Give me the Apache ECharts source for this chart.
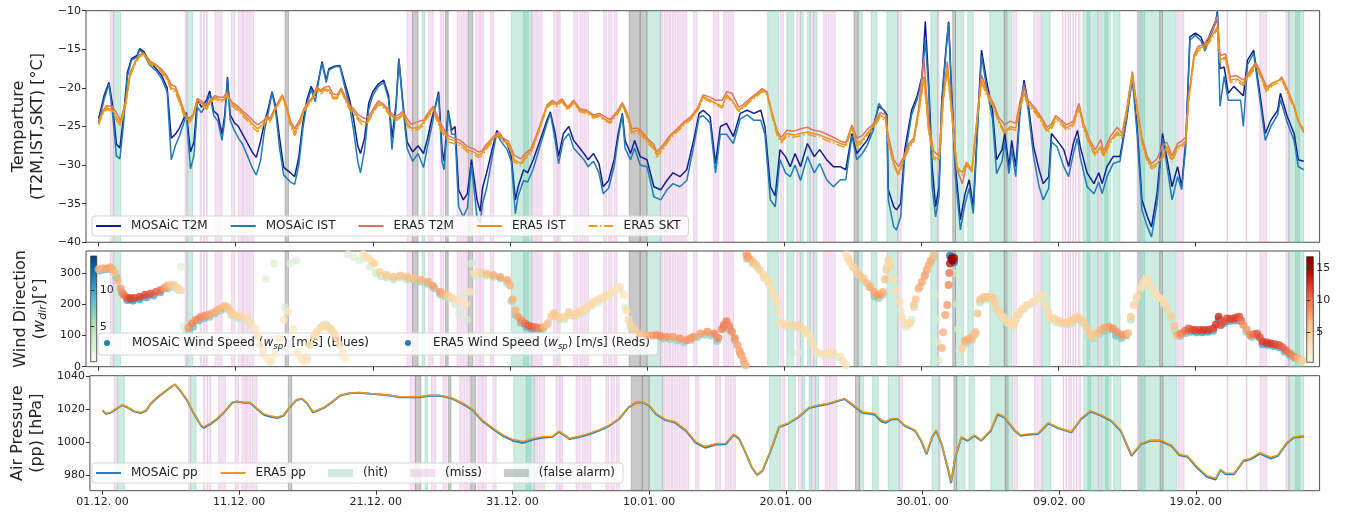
<!DOCTYPE html>
<html>
<head>
<meta charset="utf-8">
<script src="https://cdn.jsdelivr.net/npm/echarts@6/dist/echarts.min.js"></script>
<style>
  html, body { margin: 0; padding: 0; background: #fff; }
  #chart { width: 1351px; height: 516px; }
</style>
</head>
<body>
<div id="chart"></div>
<script>
// Time is expressed in days since 01.12. 00:00
const tickDays = [0, 10, 20, 30, 40, 50, 60, 70, 80];
const tickLabels = ['01.12. 00', '11.12. 00', '21.12. 00', '31.12. 00', '10.01. 00',
                    '20.01. 00', '30.01. 00', '09.02. 00', '19.02. 00'];

// MOSAiC temperatures: [day, T2M, IST]
const mosaicTemp = [
  [0,-24,-24.5],[0.4,-21,-21.5],[0.75,-19.3,-19.5],[1.0,-22,-23],[1.3,-27.3,-28.8],[1.55,-27.8,-29.2],[1.8,-24,-25],
  [2.1,-18,-18.5],[2.4,-16.2,-16.4],[2.8,-15.8,-16],[3.0,-14.9,-15.1],[3.3,-15.3,-15.6],[3.7,-16.6,-17],[4.2,-17.5,-17.8],
  [4.6,-18.4,-18.8],[5.0,-20,-20.5],[5.3,-26.5,-29.3],[5.6,-26,-27.5],[5.9,-25.2,-26.2],[6.2,-24,-24.6],[6.4,-23.2,-23.5],
  [6.7,-28.3,-30.5],[6.95,-27,-28.8],[7.2,-21.5,-22.5],[7.5,-22.5,-23.2],[7.9,-21.5,-22],[8.1,-20.4,-20.8],[8.4,-23,-23.6],
  [8.7,-23.5,-24.3],[9.0,-26,-26.8],[9.2,-23.5,-24.2],[9.4,-18.6,-18.8],[9.6,-23.5,-24.2],[9.9,-24.5,-25.5],[10.2,-25,-26.5],
  [10.5,-26,-27.3],[10.9,-27.3,-29],[11.2,-28.3,-30.3],[11.5,-29,-31.3],[11.8,-27,-29.5],[12.1,-24.5,-25.5],[12.4,-22.5,-23],
  [12.65,-20.5,-20.6],[12.9,-22.3,-22.8],[13.2,-26.5,-27.8],[13.5,-30.3,-31.3],[14.0,-31,-32.2],[14.3,-31.5,-32.5],
  [14.6,-29,-30],[14.9,-24.5,-25.2],[15.2,-21.5,-22],[15.5,-19.8,-20.2],[15.8,-21,-21.8],[16.1,-18.4,-18.6],[16.3,-16.6,-16.8],
  [16.6,-19,-19.3],[16.8,-17.5,-17.7],[17.2,-17.2,-17.3],[17.6,-17.1,-17.2],[17.9,-19,-19.5],[18.3,-21.5,-22.3],[18.6,-24,-25.5],
  [18.9,-27.5,-29.5],[19.1,-28.5,-31],[19.4,-26.5,-28],[19.7,-22,-22.8],[20.0,-20.5,-21],[20.4,-19.5,-19.8],[20.8,-19,-19.3],
  [21.15,-21,-21.5],[21.4,-26.5,-28],[21.7,-22,-22.5],[21.9,-16.2,-16.3],[22.2,-22,-22.5],[22.5,-27,-27.8],[22.9,-28.3,-29.5],
  [23.3,-27.5,-28.5],[23.7,-28.5,-30.3],[24.0,-26.5,-27.5],[24.3,-24,-25],[24.55,-22.4,-22.6],[24.8,-20.5,-20.8],
  [25.05,-28,-29.5],[25.2,-29.5,-30.6],[25.5,-22.9,-23.2],[25.75,-25.5,-26],[26.0,-25,-26],[26.26,-33.2,-35.4],
  [26.6,-34.5,-36.7],[26.9,-33.7,-35.5],[27.2,-29.3,-30],[27.6,-34.5,-36.7],[27.84,-36,-37.5],[28.0,-33,-35],[28.3,-31,-33],
  [28.7,-28,-29],[29.05,-25.5,-25.8],[29.3,-26.3,-26.8],[29.8,-27.2,-28],[30.1,-28.9,-29.5],[30.4,-34.5,-36.3],[30.6,-32.8,-34],
  [31.0,-30.6,-32],[31.3,-31,-32.2],[31.7,-29.3,-30.5],[32.2,-26.8,-27.5],[32.7,-24.2,-24.6],[32.95,-23.1,-23.3],[33.3,-25.9,-26.8],
  [33.55,-28.9,-29.8],[33.9,-25.9,-26.8],[34.3,-25,-25.9],[34.65,-26.8,-27.8],[35.0,-27.6,-28.5],[35.4,-28.5,-29.3],
  [35.7,-29.3,-30.2],[36.1,-28.5,-29.5],[36.5,-29.8,-31],[36.8,-32.8,-33.7],[37.2,-32,-33],[37.6,-29.3,-30.2],[37.9,-25.9,-26.5],
  [38.2,-23.3,-23.5],[38.4,-26.8,-27.8],[38.8,-28.5,-29.3],[39.1,-26.8,-27.8],[39.5,-28.9,-30],[40.0,-29.3,-30.2],
  [40.5,-32.8,-34.1],[41.0,-33.2,-34.5],[41.45,-32,-33.2],[41.9,-31,-32.4],[42.4,-31.5,-32.8],[42.9,-30.6,-32],[43.4,-26.8,-27.6],
  [43.8,-23.3,-23.8],[44.1,-22.9,-23.6],[44.6,-23.7,-24.5],[45.0,-29.8,-31],[45.35,-25,-26],[45.8,-24.6,-26],[46.3,-26.3,-27.2],
  [46.8,-23.3,-24],[47.3,-22.9,-23.5],[47.8,-23.3,-24.2],[48.3,-22.9,-24.2],[48.6,-25,-26],[49.0,-32.8,-34.5],[49.35,-34,-35.4],
  [49.7,-28,-29.3],[50.1,-28.9,-31],[50.45,-30.2,-31.5],[50.8,-28.5,-30],[51.2,-30.2,-32],[51.7,-27.2,-28.9],[52.2,-28.9,-31],
  [52.6,-28,-29.8],[53.1,-29.3,-31.9],[53.6,-30.2,-32.8],[54.1,-30.2,-31.9],[54.5,-30.6,-31.9],[54.95,-25.9,-26.2],
  [55.3,-28.5,-29.3],[55.7,-27.6,-28.5],[56.05,-26.8,-27.5],[56.5,-25,-25.5],[56.9,-22.4,-22],[57.3,-22.9,-23],[57.5,-23.5,-24],
  [57.6,-33.2,-34.5],[58.0,-35.4,-38],[58.2,-35.8,-38.4],[58.5,-35,-36.7],[58.8,-28,-29],[59.3,-22.9,-23.5],[59.7,-21.1,-21.5],
  [60.06,-18.5,-18.8],[60.3,-11.4,-13.8],[60.55,-19.4,-20.5],[60.8,-30.2,-32.8],[61.05,-35.4,-36.7],[61.3,-32.8,-34],
  [61.5,-21.6,-22],[61.8,-15.1,-15.5],[62.0,-11.4,-11.6],[62.25,-21.6,-22.5],[62.5,-30.2,-31.5],[62.86,-37.1,-38.4],
  [63.2,-33.7,-35],[63.5,-31.9,-33],[63.8,-35.4,-36.3],[64.2,-21.6,-22.4],[64.4,-15.1,-15.8],[64.8,-19.4,-20.3],[65.2,-22.9,-24],
  [65.5,-29.3,-31.1],[65.9,-28,-29.5],[66.1,-25.9,-27],[66.4,-30.2,-31.1],[66.6,-26.8,-28],[66.9,-30.2,-31.5],[67.2,-22.9,-23.5],
  [67.5,-19,-19.4],[67.8,-22,-22.8],[68.2,-27.6,-28.9],[68.6,-30.6,-32.8],[68.9,-32.4,-34.5],[69.3,-31.5,-33],[69.5,-25.9,-27],
  [69.9,-26.8,-27.6],[70.4,-28,-30.2],[70.75,-30.2,-31.5],[71.1,-27.2,-28.5],[71.4,-25.5,-26.5],[71.6,-27.6,-29],[72.1,-31,-32.8],
  [72.6,-32.4,-33.7],[72.95,-31,-32.2],[73.2,-32.4,-33.7],[73.55,-30.2,-31.5],[74.0,-28.9,-29.8],[74.5,-28.9,-29.5],
  [75.0,-23.7,-24],[75.4,-18.5,-18.7],[75.75,-25,-26],[76.1,-34.5,-35.8],[76.5,-36.7,-38],[76.8,-38,-39.3],[77.2,-33.7,-35],
  [77.6,-25.9,-26.5],[77.9,-28.9,-29.8],[78.3,-32.8,-34.5],[78.7,-30.2,-31.5],[79.0,-32.8,-33.2],[79.3,-26.8,-27.5],
  [79.6,-13.4,-13.8],[80.0,-12.9,-13.2],[80.4,-13.4,-13.9],[80.7,-14.7,-15.2],[81.1,-12.9,-13.3],[81.5,-11.2,-11.5],
  [81.6,-10.1,-10.3],[81.8,-17.5,-22.4],[82.1,-17.3,-18.5],[82.4,-20.7,-21.6],[82.8,-19.8,-21.6],[83.3,-20.7,-21.6],
  [83.5,-21,-25],[83.8,-16.4,-17],[84.25,-15.1,-15.5],[84.7,-20.7,-21.5],[85.1,-25.9,-26.8],[85.5,-24.2,-25],[86.0,-22.9,-23.5],
  [86.2,-20.7,-21.5],[86.7,-23.7,-24.5],[87.2,-25.9,-26.8],[87.5,-29.3,-30.2],[87.9,-29.5,-30.6]
];

// ERA5 temperatures: [day, T2M, IST, SKT]
const era5Temp = [
  [0,-24.3,-24.6,-24.8],[0.3,-23,-23.2,-23.4],[0.6,-22.3,-22.6,-22.8],[1.0,-22.4,-22.8,-23],[1.3,-23.2,-23.8,-24.2],
  [1.6,-24.2,-24.6,-25],[2.0,-21.5,-21.7,-22],[2.3,-18,-18.2,-18.5],[2.7,-16.5,-16.6,-16.8],[3.0,-15.7,-15.7,-15.9],
  [3.3,-15.5,-15.6,-15.8],[3.8,-16.6,-16.8,-17],[4.2,-17,-17.1,-17.3],[4.6,-17.6,-17.8,-18],[5.0,-18.5,-18.8,-19],
  [5.3,-19.6,-20,-20.3],[5.6,-19.8,-20.2,-20.5],[6.0,-21.8,-22.2,-22.5],[6.3,-23.3,-23.6,-23.9],[6.6,-24,-24.3,-24.6],
  [6.9,-23.4,-23.6,-23.8],[7.2,-21.4,-21.6,-21.8],[7.6,-21.8,-22.1,-22.3],[7.9,-22.3,-22.6,-22.8],[8.2,-21.4,-21.6,-21.8],
  [8.5,-21,-21.2,-21.4],[8.8,-21.2,-21.5,-21.7],[9.1,-21.2,-21.6,-21.8],[9.35,-20.6,-20.8,-21],[9.7,-21.8,-22,-22.3],
  [10.1,-22.3,-22.6,-22.9],[10.5,-23,-23.3,-23.6],[10.9,-23.6,-24,-24.3],[11.3,-24.3,-24.8,-25.2],[11.6,-24.8,-25.3,-25.7],
  [12.0,-24.3,-24.7,-25],[12.3,-23.6,-23.8,-24],[12.5,-24,-24.3,-24.5],[12.8,-22.8,-23,-23.2],[13.1,-21.8,-22,-22.2],
  [13.4,-20.9,-21,-21.2],[13.7,-22.3,-22.5,-22.8],[14.0,-24.3,-24.7,-25],[14.3,-25.3,-25.8,-26.2],[14.7,-24,-24.3,-24.6],
  [15.0,-22.6,-22.8,-23],[15.3,-21.8,-22,-22.2],[15.6,-21.2,-21.4,-21.6],[15.9,-19.8,-20,-20.2],[16.2,-20.3,-20.5,-20.8],
  [16.5,-19.9,-20.1,-20.3],[16.8,-19.8,-20.3,-20.5],[17.1,-20.8,-21.2,-21.4],[17.4,-20.9,-21.2,-21.4],[17.7,-20,-20.2,-20.4],
  [18.0,-21.2,-21.5,-21.7],[18.3,-22.2,-22.5,-22.8],[18.6,-22.7,-23,-23.3],[18.9,-23.4,-23.8,-24.1],[19.2,-23.8,-24.3,-24.7],
  [19.5,-24,-24.5,-24.9],[19.8,-23.4,-23.8,-24],[20.1,-22.5,-22.8,-23],[20.4,-21.7,-22,-22.2],[20.7,-22,-22.2,-22.4],
  [21.0,-22.5,-22.8,-23],[21.3,-23.2,-23.5,-23.8],[21.6,-23.7,-24,-24.3],[21.9,-23.5,-23.8,-24],[22.2,-23,-23.3,-23.5],
  [22.5,-24,-24.5,-24.8],[22.8,-24.7,-25.2,-25.5],[23.1,-24.5,-25.2,-25.5],[23.4,-24.3,-25,-25.3],[23.7,-24.2,-24.5,-24.8],
  [24.0,-23.3,-23.5,-23.8],[24.4,-22.4,-22.6,-22.9],[24.7,-23.6,-24,-24.4],[25.0,-24.8,-25.2,-25.6],[25.5,-26.2,-26.6,-27],
  [25.9,-26.5,-26.8,-27.2],[26.4,-26.8,-27.2,-27.5],[26.9,-27.6,-28,-28.3],[27.35,-27.9,-28.3,-28.6],[27.7,-28.3,-28.7,-29],
  [27.95,-28.2,-28.5,-28.8],[28.3,-27.3,-27.6,-27.9],[28.8,-26.3,-26.5,-26.8],[29.2,-25.7,-25.9,-26.1],[29.5,-26.5,-26.8,-27],
  [29.9,-26.9,-27.2,-27.5],[30.3,-28.7,-29.3,-29.6],[30.8,-29.2,-29.8,-30.1],[31.1,-28.5,-28.9,-29.2],[31.5,-28,-28.3,-28.6],
  [31.85,-26.5,-26.8,-27],[32.2,-24.8,-25,-25.2],[32.7,-22.2,-22.4,-22.6],[33.1,-21.6,-21.8,-22],[33.4,-22,-22.2,-22.4],
  [33.8,-21.4,-21.6,-21.8],[34.2,-22.5,-22.7,-22.9],[34.65,-21.6,-21.8,-22],[35.1,-22.7,-22.9,-23.1],[35.6,-22.9,-23.1,-23.3],
  [36.1,-23.5,-23.7,-23.9],[36.5,-23.3,-23.5,-23.7],[36.8,-23.6,-23.9,-24.1],[37.3,-24.1,-24.4,-24.6],[37.8,-23.1,-23.3,-23.5],
  [38.2,-21.9,-22.2,-22.4],[38.5,-23,-23.3,-23.5],[38.9,-25.3,-25.7,-26],[39.3,-25.2,-25.5,-25.8],[39.6,-25.6,-25.9,-26.2],
  [40.0,-26.5,-26.8,-27.1],[40.5,-27.3,-27.6,-27.9],[40.7,-28.3,-28.7,-29],[41.2,-27.3,-27.6,-27.9],[41.7,-26.1,-26.3,-26.5],
  [42.2,-25.3,-25.5,-25.7],[42.7,-24.4,-24.6,-24.8],[43.2,-23.7,-23.9,-24.1],[43.65,-22.7,-22.9,-23.1],[44.1,-20.9,-21.1,-21.3],
  [44.6,-21.2,-21.6,-21.8],[45.0,-21.6,-22,-22.2],[45.5,-21.6,-22.4,-22.6],[45.8,-20.5,-20.9,-21.1],[46.2,-20.7,-21.6,-21.8],
  [46.7,-22.5,-22.9,-23.1],[47.05,-22.1,-22.4,-22.6],[47.5,-21.4,-21.6,-21.8],[48.0,-20.7,-20.9,-21.1],[48.4,-20.1,-20.3,-20.5],
  [48.75,-20.5,-20.7,-20.9],[49.1,-23.1,-23.3,-23.5],[49.5,-25.6,-25.9,-26.2],[49.8,-26.4,-26.8,-27.1],[50.2,-25.5,-25.9,-26.2],
  [50.7,-25.6,-26.1,-26.4],[51.2,-25.3,-25.9,-26.2],[51.7,-25.1,-25.7,-26],[52.15,-25.5,-25.9,-26.2],[52.6,-25.6,-26.1,-26.4],
  [53.1,-26,-26.5,-26.8],[53.6,-26.4,-26.8,-27.1],[54.1,-26.9,-27.2,-27.5],[54.5,-27.1,-27.4,-27.7],[54.95,-24.8,-25,-25.2],
  [55.3,-26.5,-27.2,-27.5],[55.7,-26.2,-26.8,-27.1],[56.05,-25.4,-25.9,-26.2],[56.5,-24.7,-25,-25.3],[57.0,-23.2,-23.5,-23.8],
  [57.4,-23.5,-24,-24.3],[57.6,-26.2,-26.8,-27.1],[58.0,-29.3,-29.8,-30.1],[58.35,-30.2,-31.1,-31.4],[58.7,-29,-29.3,-29.6],
  [59.1,-27.2,-27.6,-27.9],[59.45,-26.5,-26.8,-27.1],[59.8,-22.8,-23.3,-23.6],[60.2,-16.2,-18.5,-18.8],[60.55,-24.5,-25.5,-25.8],
  [60.9,-28.2,-28.9,-29.2],[61.3,-28.8,-29.3,-29.6],[61.6,-21.2,-21.6,-21.9],[61.9,-16.6,-17.3,-17.6],[62.25,-23,-23.7,-24],
  [62.6,-30.5,-30.2,-30.5],[63.0,-32.4,-31,-31.3],[63.3,-30,-29.6,-29.9],[63.7,-30.8,-30.6,-30.9],[64.1,-23.3,-23.7,-24],
  [64.4,-18.3,-19,-19.3],[64.8,-20.4,-20.7,-21],[65.3,-22.1,-22.4,-22.7],[65.65,-23.8,-24.2,-24.5],[66.1,-24.8,-25.7,-26],
  [66.5,-24.3,-25,-25.3],[66.9,-24.6,-25.2,-25.5],[67.2,-21.8,-22.4,-22.7],[67.5,-19.8,-20.7,-21],[67.8,-21.6,-22,-22.3],
  [68.3,-22.6,-22.9,-23.2],[68.8,-23.9,-24.2,-24.5],[69.2,-25.1,-25.5,-25.8],[69.5,-24.7,-25,-25.3],[69.8,-23.6,-23.9,-24.2],
  [70.3,-24.3,-24.6,-24.9],[70.6,-24.8,-25.2,-25.5],[71.1,-24.3,-24.6,-24.9],[71.5,-22,-22.4,-22.7],[71.85,-24.6,-25,-25.3],
  [72.3,-26.8,-27.2,-27.5],[72.7,-28,-28.5,-28.8],[73.1,-26.7,-27.6,-27.9],[73.3,-28.2,-28.7,-29],[73.8,-26.3,-26.8,-27.1],
  [74.3,-25.1,-25.7,-26],[74.65,-25.9,-26.3,-26.6],[75.0,-22.6,-22.9,-23.2],[75.4,-17.9,-18.1,-18.4],[75.75,-22.6,-22.9,-23.2],
  [76.1,-26.4,-26.8,-27.1],[76.5,-28.9,-29.3,-29.6],[76.8,-29.8,-30.2,-30.5],[77.2,-29.2,-29.8,-30.1],[77.6,-27.5,-28.9,-29.2],
  [77.9,-27,-27.6,-27.9],[78.3,-28.8,-29.3,-29.6],[78.7,-27.2,-27.6,-27.9],[79.0,-26.9,-27.4,-27.7],[79.3,-26.4,-26.8,-27.1],
  [79.5,-21.3,-21.6,-21.9],[79.9,-15.7,-16,-16.3],[80.2,-14.6,-14.9,-15.2],[80.6,-14.4,-14.7,-15],[81.1,-13.1,-13.6,-13.9],
  [81.6,-10.8,-12.1,-12.4],[81.8,-15.8,-16.4,-16.7],[82.2,-15.6,-16,-16.3],[82.55,-18.6,-19,-19.3],[83.0,-18.4,-18.8,-19.1],
  [83.5,-19,-19.4,-19.7],[83.9,-18,-18.3,-18.6],[84.4,-16.7,-17,-17.3],[84.7,-17.8,-18.1,-18.4],[85.2,-19.9,-20.3,-20.6],
  [85.6,-19.4,-19.4,-19.7],[86.1,-19,-19,-19.3],[86.3,-18.6,-18.8,-19],[86.7,-20.1,-20.3,-20.6],[87.2,-22.3,-22.4,-22.7],
  [87.5,-24.3,-24.2,-24.4],[87.9,-25.8,-25.5,-25.3]
];

// Wind direction [day, direction °, speed m/s]
const mosaicWind = [
  [0.1,308,9],[0.5,312,10],[0.9,312,9],[1.3,285,8],[1.7,238,9],[2.1,213,11],[2.5,212,11.5],[3.0,216,11],[3.5,222,11],
  [4.0,228,10.5],[4.5,238,10],[5.0,250,8],[5.4,255,6],[5.8,245,4.5],[6.0,320,2.5],[6.2,130,3],[6.4,110,3.5],
  [6.6,112,8],[6.9,128,9],[7.3,148,9],[7.7,155,8.5],[8.1,160,8],[8.5,170,7],[8.9,180,7],[9.3,185,6],[9.7,165,5],
  [10.1,155,4.5],[10.6,150,4],[11.0,140,3.5],[11.5,90,3],[12.0,40,3],[12.5,15,3],[12.2,280,2.5],[12.8,330,2.5],[13.0,90,2.5],
  [13.6,190,3],[14.0,330,2.5],[14.4,340,3],[14.8,30,3],[15.2,20,3],[15.5,70,3.5],[15.9,105,4],[16.3,128,4],[16.6,135,4],
  [17.0,118,4],[17.4,88,3.5],[17.8,40,3],[18.2,360,2.5],[18.6,350,2.5],[19.0,340,3],[19.4,345,3],[19.8,320,3.5],[20.2,300,4],
  [20.6,290,4.5],[21.0,285,5],[21.5,280,5],[22.0,285,5],[22.5,280,5.5],[23.0,277,6],[23.5,272,6.5],[24.0,265,7],
  [24.5,250,7],[24.9,232,7],[25.2,225,5.5],[25.6,220,4],[26.0,200,3.5],[26.3,170,3],[26.6,230,3],[26.9,150,3],[27.2,330,3],
  [27.5,290,3.5],[27.9,298,4.5],[28.3,292,5],[28.8,288,6],[29.3,282,6.5],[29.8,270,6.5],[30.1,210,6],[30.4,165,7],[30.8,140,8],
  [31.2,128,9],[31.6,120,10],[32.0,118,9],[32.4,120,7],[32.8,140,5.5],[33.2,165,5],[33.6,150,4.5],[34.0,152,4],[34.4,165,4],
  [34.8,162,4],[35.2,172,4],[35.6,180,3.5],[36.0,195,3.5],[36.4,205,3.5],[36.8,215,3.5],[37.2,225,3],[37.6,238,3],[38.0,248,3],
  [38.4,190,3],[38.8,125,4],[39.2,110,4.5],[39.7,98,5.5],[40.2,94,6.5],[40.7,92,7],[41.2,90,7],[41.7,88,7],[42.2,84,7],
  [42.7,78,7],[43.2,85,7],[43.7,95,7],[44.2,102,7],[44.7,100,7.5],[45.1,82,7.5],[45.6,125,8],[46.0,120,8],[46.4,85,7.5],
  [46.8,40,6.5],[47.1,8,6],[47.3,345,7],[47.7,330,5.5],[48.1,315,4.5],[48.5,285,4],[48.9,262,3.5],[49.2,230,3.5],[49.5,195,3.5],
  [49.8,140,3.5],[50.2,128,4],[50.7,126,4],[51.2,122,4],[51.6,105,3.5],[52.0,85,3.5],[52.4,42,3.5],[52.9,36,3.5],[53.4,38,3.5],
  [53.9,30,3],[54.3,15,3],[50.5,20,2.5],[51.0,45,2.5],[54.7,345,3.5],[55.0,318,4],[55.4,295,4.5],[55.8,275,5],[56.2,255,6],
  [56.6,225,7],[56.9,220,7],[57.2,230,6],[57.5,320,4.5],[57.8,320,4],[58.1,260,3.5],[58.5,180,3],[58.9,125,3],[59.3,150,3.5],
  [59.5,190,4.5],[59.9,255,6],[60.3,295,6.5],[60.7,335,6],[60.9,350,6],[61.0,230,3],[61.1,150,3],[61.2,80,3],[61.3,20,3],
  [62.1,355,13],[62.25,350,14],[62.4,335,12],[62.5,300,3.5],[62.6,200,3.5],[62.7,120,3],[62.8,50,3],
  [63.3,75,5.5],[63.7,85,5.5],[64.0,105,5],[64.3,205,5],[64.7,215,5],[65.1,212,4.5],[65.5,178,4],[65.9,155,4],[66.3,140,3.5],
  [66.7,125,3.5],[67.1,165,4],[67.5,185,4],[67.9,198,3.5],[68.3,210,3.5],[68.7,222,3.5],[69.0,205,3.5],[69.4,150,4],[69.8,142,4],
  [70.2,138,4.5],[70.6,135,4.5],[71.0,138,4.5],[71.4,150,4.5],[71.8,138,4.5],[72.2,100,5],[72.6,90,5.5],[73.0,105,6.5],
  [73.4,115,7],[73.8,118,7.5],[74.2,100,8],[74.6,92,8],[75.0,100,6.5],[75.3,150,5],[75.7,215,4],[76.1,255,3.5],[76.5,268,3.5],
  [76.9,240,3.5],[77.3,220,3.5],[77.7,200,3.5],[78.1,160,4],[78.5,115,5.5],[78.9,98,7.5],[79.3,108,9],[79.7,112,10],
  [80.1,110,10.5],[80.5,110,11],[80.9,112,11],[81.3,115,10.5],[81.7,150,11],[82.1,140,10],[82.5,146,10.5],[82.9,148,10.5],
  [83.3,145,9],[83.7,112,7],[84.1,95,8],[84.5,100,9.5],[84.9,72,10.5],[85.3,70,11],[85.7,66,10.5],[86.1,62,10],[86.5,48,9.5],
  [86.9,36,8.5],[87.3,26,7],[87.7,15,4.5]
];
const era5Wind = [
  [0,312,7],[0.3,315,7],[0.6,314,7.5],[0.85,318,7.5],[1.05,310,7],[1.2,300,6.5],[1.4,275,7],[1.6,250,8],[1.8,232,9],
  [1.95,224,10],[2.15,220,11],[2.3,219,12],[2.6,220,12],[3.0,224,12],[3.4,230,12],[3.8,234,11.5],[4.2,240,11],[4.5,245,10],
  [4.8,252,8.5],[5.0,259,7],[5.3,262,5.5],[5.5,261,5],[5.8,252,4.5],[6.0,244,4],
  [6.55,125,8],[6.8,138,9],[7.1,150,9],[7.4,158,9],[7.7,163,8.5],[8.0,166,8],[8.3,172,7.5],[8.6,180,7],[8.9,186,7],
  [9.2,195,6.5],[9.4,190,6],[9.6,178,5.5],[9.85,166,5],[10.1,163,4.5],[10.4,160,4.5],[10.8,155,4],[11.1,140,3.5],[11.4,122,3],
  [11.6,100,3],[11.8,70,2.5],[12.0,50,2.5],[12.3,28,2.5],[12.6,18,2.5],[12.9,40,2],[13.2,90,2],[13.5,150,2.5],
  [13.8,175,2.5],[14.2,120,2.5],[14.5,45,2.5],[14.8,25,2.5],[15.0,16,2.5],[15.2,30,3],[15.4,69,3.5],[15.7,95,4],[15.9,112,4],
  [16.2,125,4],[16.4,132,4],[16.7,127,4],[16.9,122,4],[17.2,105,4],[17.4,90,3.5],[17.6,69,3],[17.8,45,2.5],[18.0,25,2],
  [19.3,360,3],[19.6,350,3.5],[19.9,338,4],[20.1,330,4.5],[20.5,303,5],[21.0,293,5.5],[21.5,288,6],[22.0,292,6],
  [22.5,288,6.5],[23.0,283,6.5],[23.5,278,7],[24.0,272,7.5],[24.4,258,8],[24.9,240,8],[25.2,232,7],[25.5,228,5],[25.8,220,4],
  [26.1,215,3.5],[26.5,210,3],[26.8,200,3],[27.1,240,3],[27.4,300,3.5],[27.8,303,4.5],[28.3,298,6],[28.8,293,7],[29.3,287,7.5],
  [29.8,277,7.5],[30.0,260,7],[30.2,215,7],[30.4,180,7],[30.6,160,8],[30.85,148,9],[31.1,138,10],[31.35,132,11],[31.6,128,11],
  [31.9,126,10],[32.2,124,9],[32.5,128,7],[32.7,135,6],[33.0,160,5.5],[33.2,172,5.5],[33.4,162,5.5],[33.6,157,5],[34.0,160,4.5],
  [34.3,175,5],[34.6,163,4.5],[34.9,170,4.5],[35.1,178,4.5],[35.4,183,4],[35.6,188,4],[35.9,200,4],[36.1,207,4],[36.4,213,3.5],
  [36.6,218,3.5],[36.9,223,3.5],[37.1,229,3.5],[37.4,237,3.5],[37.6,245,3],[37.9,252,3],[38.05,255,3],[38.3,230,3],[38.5,180,3.5],
  [38.65,150,4],[38.8,133,4.5],[39.1,118,5],[39.5,106,6],[40.0,101,7],[40.4,100,8],[40.7,101,8.5],[41.0,98,9],[41.45,96,8.5],
  [41.9,96,8],[42.4,90,8.5],[42.9,85,8.5],[43.2,92,8],[43.4,96,8],[43.9,106,8],[44.4,112,8.5],[44.9,106,9],[45.2,92,9],
  [45.45,120,9],[45.6,133,9.5],[45.8,145,9.5],[46.0,130,9],[46.2,112,9],[46.4,92,8.5],[46.6,69,8],[46.75,50,8],[46.9,37,7.5],
  [47.05,20,7.5],[47.2,5,7],[47.25,358,8],[47.35,352,8],[47.5,345,7.5],[47.75,335,6.5],[48.0,324,5.5],[48.25,308,5],
  [48.5,293,4.5],[48.7,282,4],[48.9,271,4],[49.05,255,3.5],[49.2,239,3.5],[49.35,222,3.5],[49.5,207,3.5],[49.6,175,3.5],[49.7,144,3.5],
  [50.0,138,4],[50.4,133,4.5],[50.9,133,4.5],[51.2,128,4.5],[51.4,122,4],[51.65,110,4],[51.9,96,3.5],[52.15,70,3.5],[52.4,48,3.5],
  [52.9,43,3.5],[53.3,45,3.5],[53.6,43,3.5],[54.1,32,3],[54.3,18,3],[54.5,5,3],[54.55,359,3],[54.65,348,3.5],[54.8,335,4],
  [55.05,318,4.5],[55.3,303,5],[55.55,292,5.5],[55.8,282,6],[56.05,268,6.5],[56.3,255,7],[56.55,240,7.5],[56.8,229,8],
  [57.0,232,8],[57.2,239,7],[57.35,280,6],[57.45,310,5],[57.6,340,4.5],[57.75,330,4],[58.0,282,3.5],[58.2,240,3.5],[58.4,207,3.5],
  [58.6,160,3.5],[58.8,140,3.5],[58.97,133,3.5],[59.2,140,4],[59.45,197,5],[59.6,215,6],[59.8,250,7],[60.05,271,7.5],
  [60.25,290,7.5],[60.4,309,7.5],[60.55,325,7],[60.7,340,7],[60.9,356,6.5],
  [61.5,60,7],[61.6,110,7],[61.75,165,7.5],[61.9,197,8],[62.0,261,9],[62.05,300,10],[62.1,330,14],[62.2,345,16],[62.3,340,16.5],
  [62.4,348,15],[63.0,60,5],[63.2,82,7],[63.4,88,7],[63.6,90,7],[63.8,100,6.5],[63.95,112,6],[64.1,170,6],[64.3,215,6],
  [64.55,222,6],[64.8,224,6],[65.05,221,5.5],[65.2,220,5.5],[65.35,205,5],[65.5,186,4.5],[65.75,172,4.5],[66.0,160,4],
  [66.2,150,4],[66.4,140,4],[66.6,135,4],[66.75,133,4],[66.9,150,4],[67.0,165,4],[67.2,176,4],[67.4,186,4],[67.7,197,4],
  [68.1,207,4],[68.45,218,3.5],[68.8,229,3.5],[69.05,202,3.5],[69.25,175,4],[69.4,160,4],[69.65,154,4.5],[69.9,150,4.5],
  [70.15,145,4.5],[70.4,140,5],[70.65,142,5],[70.9,145,5],[71.15,152,5],[71.4,160,5],[71.6,152,5],[71.85,145,5],[72.1,125,5.5],
  [72.3,105,5.5],[72.5,96,5.5],[72.8,108,6],[73.1,117,7],[73.4,125,7.5],[73.7,128,8],[74.0,122,8.5],[74.3,110,8.5],
  [74.65,101,8.5],[74.9,104,8],[75.1,108,6],[75.3,160,5],[75.5,197,4.5],[75.75,225,4],[76.0,250,3.5],[76.2,270,3.5],
  [76.35,282,3.5],[76.5,275,3.5],[76.7,261,3.5],[76.95,245,3.5],[77.2,229,3.5],[77.45,218,3.5],[77.7,207,4],[77.95,185,4.5],
  [78.2,160,5],[78.45,130,6],[78.66,101,7],[78.85,104,8],[79.0,106,9],[79.25,115,10],[79.5,122,11],[79.75,118,11.5],
  [80.0,117,12],[80.3,117,12],[80.6,117,12.5],[80.95,118,12.5],[81.3,122,12],[81.5,135,12.5],[81.7,160,13],[81.85,133,12],
  [82.05,145,11.5],[82.3,154,11.5],[82.55,153,12],[82.8,154,12],[83.0,157,12],[83.2,160,11.5],[83.35,148,10],[83.5,133,8.5],
  [83.75,118,8],[84.0,101,9],[84.25,104,10],[84.5,106,11],[84.7,93,11.5],[84.9,80,12],[85.2,77,12.5],[85.5,74,12.5],
  [85.8,72,12],[86.1,69,11.5],[86.35,62,11],[86.6,53,10.5],[86.9,42,10],[87.2,32,9],[87.5,26,7],[87.8,21,5]
];

// Air pressure: [day, MOSAiC pp, ERA5 pp]
const pressure = [
  [0,1019.3,1019.5],[0.25,1017.2,1017.6],[0.6,1017.9,1018.2],[1.2,1021.2,1021.5],[1.46,1022.5,1022.7],[1.8,1021.2,1021.5],
  [2.3,1018.7,1019],[2.8,1017.7,1018],[3.2,1019.2,1019.5],[3.5,1023,1023.3],[4.0,1027,1027.3],[4.5,1030.2,1030.5],
  [5.0,1033.3,1033.5],[5.3,1035,1035.2],[5.7,1031.2,1031.5],[6.2,1025.2,1025.5],[6.7,1017.2,1017.5],[7.2,1010.2,1010.6],
  [7.4,1008.8,1009.3],[7.9,1011,1011.5],[8.4,1014.1,1014.5],[8.9,1018.1,1018.4],[9.5,1024,1024.3],[9.85,1024.7,1024.9],
  [10.3,1024,1024.2],[10.8,1023.9,1024.1],[11.3,1020.3,1020.6],[11.8,1016.7,1017.2],[12.3,1015.4,1016],[12.8,1014.7,1015.2],
  [13.25,1016.1,1016.5],[13.7,1021.2,1021.5],[14.2,1025.6,1025.8],[14.6,1026.3,1026.5],[15.0,1023.3,1023.6],[15.4,1018.1,1018.5],
  [15.7,1019.1,1019.4],[16.2,1020.8,1021.1],[16.8,1024.3,1024.5],[17.4,1028.3,1028.5],[18.1,1029.7,1029.9],[18.8,1030,1030.2],
  [19.6,1029.4,1029.6],[20.3,1028.9,1029.1],[21.0,1028.3,1028.5],[21.8,1027.3,1027.6],[22.5,1027.2,1027.5],[23.2,1027.2,1027.5],
  [23.9,1028.2,1028.5],[24.7,1028.1,1028.4],[25.4,1026.9,1027.2],[25.65,1026.2,1026.5],[26.4,1023.1,1023.5],[27.1,1019.5,1019.9],
  [27.8,1012.9,1013.4],[28.6,1007.9,1008.4],[29.3,1003.9,1004.5],[30.0,1001.1,1001.8],[30.75,999.6,1000.5],[31.5,1001.7,1002.3],
  [32.2,1002.8,1003.3],[32.95,1003.3,1003.7],[33.4,1006.4,1006.7],[34.2,1001.9,1002.4],[34.9,1003.2,1003.7],[35.6,1004.9,1005.4],
  [36.3,1007,1007.4],[37.1,1010,1010.4],[37.8,1014.1,1014.4],[38.5,1021.1,1021.4],[39.0,1023.9,1024.1],[39.5,1024.3,1024.5],
  [40.0,1022.2,1022.5],[40.5,1017,1017.4],[41.2,1013.4,1013.8],[41.9,1011.9,1012.4],[42.7,1006.9,1007.4],[43.4,999.8,1000.4],
  [44.1,996.7,997.4],[44.9,998.6,999.3],[45.6,998.8,999.4],[46.2,1004.6,1005],[46.6,1001.9,1002.3],[47.05,993.9,994.3],
  [47.5,984.9,985.2],[47.9,980.2,980.6],[48.3,982.8,983.2],[48.9,994.9,995.3],[49.5,1009,1009.4],[50.2,1011.4,1011.8],
  [50.9,1015,1015.4],[51.7,1020.7,1021.1],[52.4,1022.1,1022.5],[53.1,1023.2,1023.5],[53.9,1025.2,1025.5],[54.3,1026.2,1026.5],
  [54.8,1023.1,1023.5],[55.6,1017.9,1018.4],[56.5,1016.8,1017.4],[57.0,1012.5,1013.5],[57.3,1011.8,1012.6],[57.75,1014,1014.4],
  [58.2,1014,1014.4],[58.7,1010,1010.4],[59.45,1007,1007.4],[59.9,1001,1001.4],[60.3,992.8,993.5],[60.7,1002.9,1003.3],
  [61.0,1007,1007.4],[61.4,998.9,999.3],[61.9,982.6,983.2],[62.1,975.4,976.3],[62.4,990.8,991.3],[62.85,1002.9,1003.3],
  [63.3,1000.9,1001.3],[63.8,1004,1004.4],[64.3,1000.9,1001.3],[65.0,1007,1007.4],[65.5,1016.8,1017.4],[66.0,1015,1015.4],
  [66.75,1007,1007.4],[67.2,1003.9,1004.4],[67.7,1004.6,1005],[68.45,1005,1005.4],[69.2,1011.4,1011.8],[69.9,1008.6,1009],
  [70.9,1006,1006.4],[71.6,1014,1014.4],[72.3,1018.6,1019],[73.1,1016,1016.4],[73.8,1013,1013.4],[74.5,1007,1007.4],
  [75.3,991.8,992.3],[76.0,998.9,999.3],[76.7,1000.9,1001.3],[77.4,1000.9,1001.3],[78.2,997.8,998.3],[78.8,992.2,992.7],
  [79.4,991.2,991.7],[80.1,984.6,985.2],[80.85,978.9,979.6],[81.45,977.5,978.2],[81.8,983.1,983.6],[82.2,980.7,981.2],
  [82.8,980.7,981.2],[83.5,988.7,989.2],[84.0,989.7,990.2],[84.7,993.2,993.7],[85.5,990.2,990.9],[86.0,991.8,992.3],
  [86.7,999.8,1000.3],[87.2,1002.9,1003.3],[87.9,1003.5,1003.9]
];

// Event periods [start day, end day]
const hitBands = [
  [1.1,1.6],[6.45,6.85],[23.6,23.8],[30.1,31.6],[31.0,31.35],[40.0,41.0],[48.8,49.6],[50.2,50.7],[51.2,51.4],[51.7,51.9],
  [52.15,52.4],[55.4,55.7],[56.35,56.77],[57.5,58.3],[60.7,61.2],[62.5,63.1],[63.4,63.8],[65.0,66.1],[66.3,66.6],
  [68.8,69.4],[71.8,72.9],[72.1,72.3],[73.1,73.8],[73.4,73.6],[74.0,74.5],[75.8,77.4],[76.0,76.3],[77.6,78.6],
  [86.8,87.9],[87.3,87.6]
];
const missBands = [
  [0.85,1.07],[6.3,6.45],[7.4,7.5],[7.65,7.72],[7.85,7.92],[8.5,9.0],[9.7,9.95],[10.2,10.5],[10.55,10.85],[10.95,11.3],
  [22.5,22.9],[24.07,24.4],[24.92,25.16],[26.14,26.5],[26.6,26.87],[27.47,27.8],[27.85,28.08],[28.57,28.81],[31.6,31.85],
  [31.95,32.34],[33.19,33.45],[33.5,33.67],[34.65,34.95],[35.1,35.35],[35.45,35.74],[36.83,37.05],[37.2,37.45],[37.6,37.81],
  [40.97,41.15],[41.25,41.5],[41.6,41.75],[41.85,42.1],[42.2,42.5],[42.6,42.91],[43.4,43.64],[44.86,45.22],[45.59,45.85],
  [45.95,46.31],[49.72,49.96],[50.93,51.18],[51.91,52.15],[52.88,53.1],[53.2,53.73],[58.3,58.55],[61.2,61.3],[66.7,66.95],
  [68.2,68.75],[70.3,70.35],[70.5,70.55],[70.7,70.75],[70.85,70.9],[71.05,71.1],[71.25,71.3],[71.45,71.6],[72.9,73.05],
  [75.75,75.95],[78.7,79.15],[82.3,82.35],[83.7,83.75],[84.7,85.2],[86.6,86.85]
];
const falseAlarmBands = [
  [13.6,13.85],[22.9,23.3],[25.3,25.5],[26.95,27.3],[38.7,39.5],[39.5,40.0],[55.1,55.4],[62.3,62.5],[66.05,66.25],[77.4,77.6]
];

// Colour maps for the wind-speed scales
const gnbu = ['#f7fcf0','#e0f3db','#ccebc5','#a8ddb5','#7bccc4','#4eb3d3','#2b8cbe','#0868ac','#084081'];
const orrd = ['#fff7ec','#fee8c8','#fdd49e','#fdbb84','#fc8d59','#ef6548','#d7301f','#b30000','#7f0000'];

const FONT = 'DejaVu Sans';
const X_MIN = -0.92, X_MAX = 89.06;
const PLOT_LEFT = 86, PLOT_WIDTH = 1233.6;
const minus = v => String(v).replace('-', '\u2212');

function gradient(colors) {
  return new echarts.graphic.LinearGradient(0, 1, 0, 0,
    colors.map((c, i) => ({ offset: i / (colors.length - 1), color: c })));
}

const grids = [
  { left: PLOT_LEFT, top: 10.7, width: PLOT_WIDTH, height: 231.6 },
  { left: PLOT_LEFT, top: 251, width: PLOT_WIDTH, height: 115.7 },
  { left: PLOT_LEFT, top: 375.7, width: PLOT_WIDTH, height: 115 }
].map(g => Object.assign(g, { show: true, borderColor: '#4d4d4d', borderWidth: 1, backgroundColor: 'transparent' }));
grids.push({ left: 90.7, top: 256, width: 6, height: 105.7, show: true, borderColor: '#333', borderWidth: 0.8,
             backgroundColor: gradient(gnbu) });
grids.push({ left: 1306.7, top: 256.7, width: 6.6, height: 105.6, show: true, borderColor: '#333', borderWidth: 0.8,
             backgroundColor: gradient(orrd) });

const xAxes = [0, 1, 2].map(i => ({
  type: 'value', gridIndex: i, min: X_MIN, max: X_MAX,
  axisLine: { show: false, onZero: false },
  splitLine: { show: false },
  axisTick: { show: true, customValues: tickDays, length: 4, lineStyle: { color: '#333' } },
  axisLabel: {
    show: i === 2, customValues: tickDays, margin: 6, fontSize: 11, color: '#222', fontFamily: FONT,
    formatter: v => tickLabels[tickDays.indexOf(v)]
  }
}));
xAxes.push({ type: 'value', gridIndex: 3, min: 0, max: 1, show: false });
xAxes.push({ type: 'value', gridIndex: 4, min: 0, max: 1, show: false });

const nameStyle = {
  fontSize: 16, lineHeight: 19, color: '#222', fontFamily: FONT,
  rich: {
    t: { fontSize: 16, lineHeight: 19, color: '#222', fontFamily: FONT },
    i: { fontSize: 16, lineHeight: 19, fontStyle: 'italic', color: '#222', fontFamily: FONT },
    s: { fontSize: 11, lineHeight: 12, fontStyle: 'italic', color: '#222', fontFamily: FONT, verticalAlign: 'bottom' }
  }
};
const yBase = {
  type: 'value', splitLine: { show: false },
  axisLine: { show: false, onZero: false },
  axisTick: { show: true, length: 4, lineStyle: { color: '#333' } },
  axisLabel: { fontSize: 11, color: '#222', fontFamily: FONT, margin: 5 },
  nameLocation: 'middle', nameRotate: 90, nameTextStyle: nameStyle
};
const yAxes = [
  Object.assign({}, yBase, {
    gridIndex: 0, min: -40, max: -10, interval: 5,
    axisLabel: Object.assign({}, yBase.axisLabel, { formatter: minus }),
    name: 'Temparture\n(T2M,IST,SKT) [°C]', nameGap: 33
  }),
  Object.assign({}, yBase, {
    gridIndex: 1, min: 0, max: 370,
    axisTick: Object.assign({}, yBase.axisTick, { customValues: [0, 100, 200, 300] }),
    axisLabel: Object.assign({}, yBase.axisLabel, { customValues: [0, 100, 200, 300] }),
    name: '{t|Wind Direction}\n{t|(}{i|w}{s|dir}{t|)[°]}', nameGap: 33
  }),
  Object.assign({}, yBase, {
    gridIndex: 2, min: 970.7, max: 1040.3,
    axisTick: Object.assign({}, yBase.axisTick, { customValues: [980, 1000, 1020, 1040] }),
    axisLabel: Object.assign({}, yBase.axisLabel, { customValues: [980, 1000, 1020, 1040], formatter: v => String(v) }),
    name: 'Air Pressure\n(pp) [hPa]', nameGap: 40
  }),
  {
    type: 'value', gridIndex: 3, position: 'right', min: 0.14, max: 14.8,
    splitLine: { show: false }, axisLine: { show: false },
    axisTick: { show: true, customValues: [5, 10], length: 3.5, lineStyle: { color: '#333' } },
    axisLabel: { customValues: [5, 10], margin: 3, fontSize: 11, color: '#222', fontFamily: FONT }
  },
  {
    type: 'value', gridIndex: 4, position: 'right', min: 0.31, max: 16.8,
    splitLine: { show: false }, axisLine: { show: false },
    axisTick: { show: true, customValues: [5, 10, 15], length: 3.5, lineStyle: { color: '#333' } },
    axisLabel: { customValues: [5, 10, 15], margin: 3, fontSize: 11, color: '#222', fontFamily: FONT }
  }
];

const HIT = { name: '(hit)', fill: 'rgba(102,194,165,0.33)' };
const MISS = { name: '(miss)', fill: 'rgba(200,110,190,0.2)' };
const FALSE_ALARM = { name: '(false alarm)', fill: 'rgba(120,120,120,0.4)' };

function bandSeries(kind, bands, g) {
  return {
    type: 'custom', name: kind.name, xAxisIndex: g, yAxisIndex: g, data: bands,
    encode: { x: [0, 1] }, silent: true, z: 1, itemStyle: { color: kind.fill },
    renderItem: (params, api) => {
      const a = api.coord([api.value(0), 0]);
      const b = api.coord([api.value(1), 0]);
      const cs = params.coordSys;
      return {
        type: 'rect',
        shape: { x: a[0], y: cs.y, width: Math.max(b[0] - a[0], 0.6), height: cs.height },
        style: { fill: kind.fill, stroke: kind.fill, lineWidth: 1 }
      };
    }
  };
}

const series = [];
[0, 1, 2].forEach(g => {
  series.push(bandSeries(HIT, hitBands, g));
  series.push(bandSeries(MISS, missBands, g));
  series.push(bandSeries(FALSE_ALARM, falseAlarmBands, g));
});

function lineSeries(name, data, color, g, extra) {
  return Object.assign({
    type: 'line', name, xAxisIndex: g, yAxisIndex: g, data, symbol: 'none', showSymbol: false,
    z: 3, lineStyle: { color, width: 1.5 }, itemStyle: { color }
  }, extra || {});
}

series.push(lineSeries('MOSAiC T2M', mosaicTemp.map(r => [r[0], r[1]]), '#111d8c', 0));
series.push(lineSeries('MOSAiC IST', mosaicTemp.map(r => [r[0], r[2]]), '#1f7ab6', 0));
series.push(lineSeries('ERA5 T2M', era5Temp.map(r => [r[0], r[1]]), '#df7268', 0));
series.push(lineSeries('ERA5 IST', era5Temp.map(r => [r[0], r[2]]), '#e8940f', 0));
series.push(lineSeries('ERA5 SKT', era5Temp.map(r => [r[0], r[3]]), '#eb9a1c', 0,
  { lineStyle: { color: '#eb9a1c', width: 1.5, type: [9, 2.5, 1.5, 2.5] } }));

const mosaicWindIndex = series.length;
series.push({
  type: 'scatter', name: 'MOSAiC Wind Speed', xAxisIndex: 1, yAxisIndex: 1, data: mosaicWind,
  encode: { x: 0, y: 1 }, symbolSize: 8, z: 3, itemStyle: { opacity: 0.7 }, silent: true
});
const era5WindIndex = series.length;
series.push({
  type: 'scatter', name: 'ERA5 Wind Speed', xAxisIndex: 1, yAxisIndex: 1, data: era5Wind,
  encode: { x: 0, y: 1 }, symbolSize: 8, z: 4, itemStyle: { opacity: 0.8 }, silent: true
});

series.push(lineSeries('MOSAiC pp', pressure.map(r => [r[0], r[1]]), '#2580bf', 2, { lineStyle: { color: '#2580bf', width: 2 } }));
series.push(lineSeries('ERA5 pp', pressure.map(r => [r[0], r[2]]), '#e69a1d', 2, { lineStyle: { color: '#e69a1d', width: 1.5 } }));

const legendBase = {
  orient: 'horizontal', left: 92, selectedMode: false,
  backgroundColor: 'rgba(255,255,255,0.82)', borderColor: '#d4d4d4', borderWidth: 1, borderRadius: 3,
  padding: [4, 8, 4, 3], itemWidth: 25, itemHeight: 8, itemGap: 22,
  textStyle: { fontSize: 12, color: '#222', fontFamily: FONT, padding: [0, 0, 0, 5] }
};
// Line entries in the legend show the stroke only
const lineEntry = name => ({ name, itemStyle: { opacity: 0 } });
const legendRich = {
  t: { fontSize: 12, lineHeight: 16, color: '#222', fontFamily: FONT },
  i: { fontSize: 12, lineHeight: 16, fontStyle: 'italic', color: '#222', fontFamily: FONT },
  s: { fontSize: 8.5, lineHeight: 9, fontStyle: 'italic', color: '#222', fontFamily: FONT, verticalAlign: 'bottom' }
};
const windLegendText = {
  'MOSAiC Wind Speed': '{t|MOSAiC Wind Speed (}{i|w}{s|sp}{t|) [m/s] (Blues)}',
  'ERA5 Wind Speed': '{t|ERA5 Wind Speed (}{i|w}{s|sp}{t|) [m/s] (Reds)}'
};

const legends = [
  Object.assign({}, legendBase, {
    top: 216,
    data: ['MOSAiC T2M', 'MOSAiC IST', 'ERA5 T2M', 'ERA5 IST', 'ERA5 SKT'].map(lineEntry)
  }),
  Object.assign({}, legendBase, {
    top: 333, left: 98, itemWidth: 16, itemHeight: 6, itemGap: 36, padding: [4, 8, 4, 6],
    data: [
      { name: 'MOSAiC Wind Speed', icon: 'circle', itemStyle: { color: '#2a7ab9', opacity: 1 } },
      { name: 'ERA5 Wind Speed', icon: 'circle', itemStyle: { color: '#2a7ab9', opacity: 1 } }
    ],
    formatter: name => windLegendText[name],
    textStyle: Object.assign({}, legendBase.textStyle, { padding: [0, 0, 0, 12], rich: legendRich })
  }),
  Object.assign({}, legendBase, {
    top: 463,
    data: [
      lineEntry('MOSAiC pp'), lineEntry('ERA5 pp'),
      { name: HIT.name, icon: 'rect', itemStyle: { color: HIT.fill } },
      { name: MISS.name, icon: 'rect', itemStyle: { color: MISS.fill } },
      { name: FALSE_ALARM.name, icon: 'rect', itemStyle: { color: FALSE_ALARM.fill } }
    ]
  })
];

const chart = echarts.init(document.getElementById('chart'), null, { renderer: 'canvas' });
chart.setOption({
  animation: false,
  backgroundColor: '#fff',
  textStyle: { fontFamily: FONT },
  grid: grids,
  xAxis: xAxes,
  yAxis: yAxes,
  legend: legends,
  visualMap: [
    { type: 'continuous', show: false, seriesIndex: mosaicWindIndex, dimension: 2,
      min: 0.14, max: 14.8, inRange: { color: gnbu } },
    { type: 'continuous', show: false, seriesIndex: era5WindIndex, dimension: 2,
      min: 0.31, max: 16.8, inRange: { color: orrd } }
  ],
  series
});
</script>
</body>
</html>
